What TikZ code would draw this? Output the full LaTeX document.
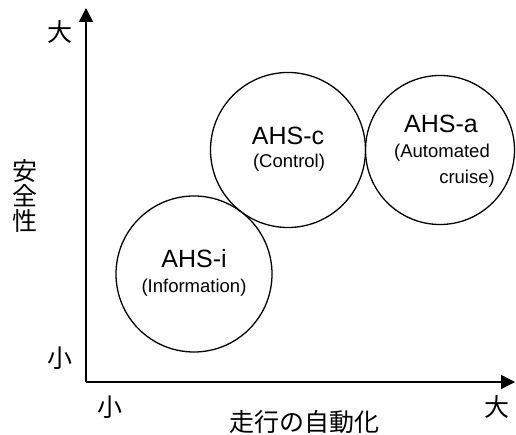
\documentclass[tikz,border=0pt]{standalone}
\usepackage{fontspec}
\setmainfont{Liberation Sans}
\newfontfamily\cjk{Noto Sans CJK JP}
\usetikzlibrary{arrows.meta}
\tikzset{
  axis/.style={line width=1.6pt,-{Triangle[length=14pt,width=14pt]}},
  bubble/.style={circle,draw,line width=1.3pt,inner sep=0pt},
  big/.style={anchor=base,font=\fontsize{25}{30}\selectfont,inner sep=0pt},
  small/.style={anchor=base,font=\fontsize{18.5}{22}\selectfont,inner sep=0pt},
  cj/.style={font=\cjk\fontsize{25}{25}\selectfont,inner sep=0pt}
}
\begin{document}
\begin{tikzpicture}[x=1pt,y=1pt]
\useasboundingbox (0,0) rectangle (516,435);
\coordinate (o) at (86,53);
\coordinate (ytop) at (86,427);
\coordinate (xend) at (515,53);
\draw[axis] (o) -- (ytop);
\draw[axis] (o) -- (xend);
% circles
\node[bubble,minimum size=156pt] (ci) at (194,161) {};
\node[bubble,minimum size=155pt] (cc) at (288,285) {};
\node[bubble,minimum size=149pt] (ca) at (440,285) {};
% texts
\node[big] (ti1) at (194,167) {AHS-i};
\node[small] (ti2) at (194,142) {(Information)};
\node[big] (tc1) at (288,290) {AHS-c};
\node[small] (tc2) at (289,267) {(Control)};
\node[big] (ta1) at (441,302) {AHS-a};
\node[small] (ta2) at (442,277) {(Automated};
\node[small,anchor=base east] (ta3) at (495,251) {cruise)};
% axis labels
\node[cj] (ybig) at (60,403) {大};
\node[cj] (ysmall) at (60,77) {小};
\node[cj] (xsmall) at (110,28) {小};
\node[cj] (xbig) at (497,28) {大};
\node[cj] (xlab) at (304,13) {走行の自動化};
\node[cj,align=center,font=\cjk\fontsize{25}{25}\selectfont] (ylab) at (25,239) {安\\全\\性};
\end{tikzpicture}
\end{document}
